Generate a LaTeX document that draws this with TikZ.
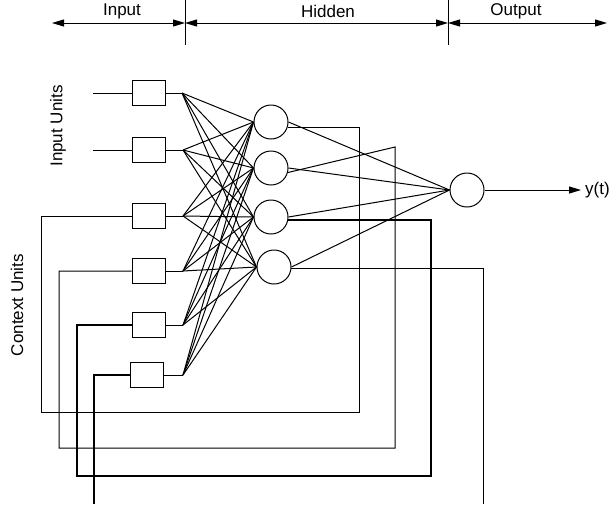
\documentclass[tikz,border=0pt]{standalone}
\usepackage{fontspec}
\setmainfont{Liberation Sans}
\usetikzlibrary{arrows.meta}
\tikzset{
  wire/.style={line width=1pt, black},
  thickwire/.style={line width=1.25pt, black},
  unitbox/.style={draw, line width=1pt, minimum width=33pt, minimum height=25pt, inner sep=0pt},
  neuron/.style={draw, circle, line width=1pt, minimum size=34pt, inner sep=0pt},
  lbl/.style={font=\fontsize{17}{20}\selectfont, inner sep=0pt},
  tipboth/.style={line width=1pt, {Triangle[length=12pt,width=7pt]}-{Triangle[length=12pt,width=7pt]}},
  tipend/.style={line width=1pt, -{Triangle[length=12pt,width=7pt]}}
}
\begin{document}
\begin{tikzpicture}[x=1pt,y=-1pt]
\useasboundingbox (0,0) rectangle (609,504);

% header
\coordinate (L) at (52,23);
\coordinate (M1) at (185,23);
\coordinate (M2) at (448,23);
\coordinate (R) at (607,23);
\coordinate (d1t) at (185,0);
\coordinate (d1b) at (185,45);
\coordinate (d2t) at (448,0);
\coordinate (d2b) at (448,45);
\draw[wire] (d1t) -- (d1b);
\draw[wire] (d2t) -- (d2b);
\draw[tipboth] (L) -- (M1);
\draw[tipboth] (M1) -- (M2);
\draw[tipboth] (M2) -- (R);
\node[lbl] (tin) at (122,11.5) {Input};
\node[lbl] (thid) at (328,11.5) {Hidden};
\node[lbl] (tout) at (516,11.5) {Output};

% side labels
\node[lbl, rotate=90] (iu) at (58,126) {Input Units};
\node[lbl, rotate=90] (cu) at (17,305) {Context Units};

% input / context boxes
\node[unitbox] (b1) at (148.5,93) {};
\node[unitbox] (b2) at (148.5,150) {};
\node[unitbox] (b3) at (148.5,216) {};
\node[unitbox] (b4) at (148.5,271) {};
\node[unitbox] (b5) at (149,325) {};
\node[unitbox] (b6) at (147,375) {};

% fan points
\coordinate (f1) at (182,93);
\coordinate (f2) at (183,150);
\coordinate (f3) at (183,216);
\coordinate (f4) at (183,271);
\coordinate (f5) at (183,325);
\coordinate (f6) at (183,375);
\foreach \i in {1,...,6} { \draw[wire] (b\i.east) -- (f\i); }

% hidden neurons
\node[neuron] (h1) at (271,122) {};
\node[neuron] (h2) at (271,168) {};
\node[neuron] (h3) at (271,217) {};
\node[neuron] (h4) at (274,267) {};

\foreach \i in {1,...,6} {
  \foreach \j in {1,...,4} {
    \draw[wire] (f\i) -- (h\j.west);
  }
}

% output neuron
\node[neuron] (o) at (467,190) {};
\foreach \j in {1,...,4} { \draw[wire] (h\j.east) -- (o.west); }
\node[lbl, anchor=west] (yt) at (585,190) {y(t)};
\draw[tipend, shorten >=4pt] (o.east) -- (yt.west);

% external inputs
\coordinate (in1) at (93,93);
\coordinate (in2) at (93,150);
\draw[wire] (in1) -- (b1.west);
\draw[wire] (in2) -- (b2.west);

% feedback loops
\draw[wire] (h1.-17) -| (359,412) -| (41,216) -- (b3.west);
\draw[wire] (h2.-15) -- (395,147) -- (395,448) -| (59,271) -- (b4.west);
\draw[thickwire] (h3.-10) -| (431,476) -| (77,325) -- (b5.west);
\coordinate (e1) at (483,504);
\coordinate (e2) at (94,504);
\draw[wire] (h4.-6) -| (e1);
\draw[thickwire] (b6.west) -| (e2);
\end{tikzpicture}
\end{document}
